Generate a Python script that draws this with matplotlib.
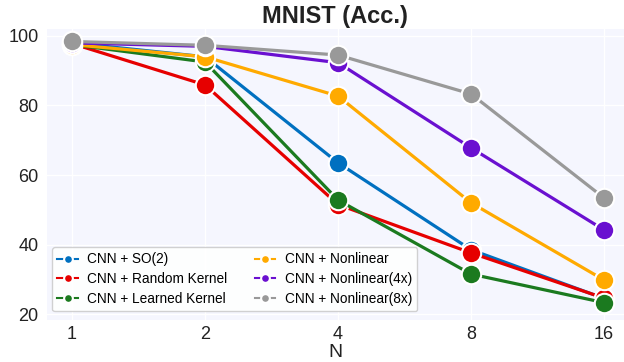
import matplotlib
matplotlib.use("Agg")
from matplotlib import pyplot as plt

plt.rcParams["font.family"] = ["Liberation Sans", "DejaVu Sans"]

n_labels = ["1", "2", "4", "8", "16"]
names = ["CNN + SO(2)", "CNN + Random Kernel", "CNN + Learned Kernel",
         "CNN + Nonlinear", "CNN + Nonlinear(4x)", "CNN + Nonlinear(8x)"]
so2 = [98.0, 94.0, 63.5, 38.5, 24.5]
random_kernel = [97.8, 85.9, 51.5, 37.6, 24.6]
learned_kernel = [97.5, 92.5, 52.8, 31.5, 23.3]
nonlinear = [97.5, 94.0, 82.7, 52.0, 29.8]
nonlinear4 = [98.0, 97.0, 92.3, 67.8, 44.2]
nonlinear8 = [98.4, 97.3, 94.5, 83.3, 53.4]
colors = ["#0070c0", "#e60000", "#1b7a1f", "#ffaa00", "#6a10d0", "#999999"]

series = [so2, random_kernel, learned_kernel, nonlinear, nonlinear4, nonlinear8]

fig = plt.figure(figsize=(6.24, 3.62), dpi=100)
ax = fig.add_axes([0.075, 0.116, 0.925, 0.804])
ax.set_facecolor("#f5f6fe")
ax.grid(True, color="white", linewidth=1)
ax.set_axisbelow(True)
for s in ax.spines.values():
    s.set_visible(False)

x = list(range(len(n_labels)))
for vals, name, c in zip(series, names, colors):
    ax.plot(x, vals, color=c, linewidth=2.3, marker="o", markersize=14,
            markeredgecolor="white", markeredgewidth=1.5, label=name)

ax.set_xticks(x)
ax.set_xticklabels(n_labels)
ax.set_yticks([20, 40, 60, 80, 100])
ax.set_xlim(-0.19, 4.15)
ax.set_ylim(18.3, 102)
ax.tick_params(length=0, labelsize=13, colors="#222222")
ax.tick_params(axis="x", pad=4)
ax.tick_params(axis="y", pad=6)
ax.set_xlabel("N", fontsize=14, color="#222222", labelpad=1)
ax.set_title("MNIST (Acc.)", fontsize=17, fontweight="bold", color="#222222", pad=4)

leg = ax.legend(loc="lower left", bbox_to_anchor=(0.009, 0.03), borderaxespad=0,
                ncol=2, fontsize=9.8, markerscale=0.45,
                handlelength=1.5, handletextpad=0.7, columnspacing=2.0,
                labelspacing=0.42, frameon=True, fancybox=True)
for h in leg.legend_handles:
    h.set_linewidth(1.5)
leg.get_frame().set_edgecolor("#cccccc")
leg.get_frame().set_facecolor("white")
leg.get_frame().set_alpha(0.9)

fig.savefig("out.png", dpi=100)
